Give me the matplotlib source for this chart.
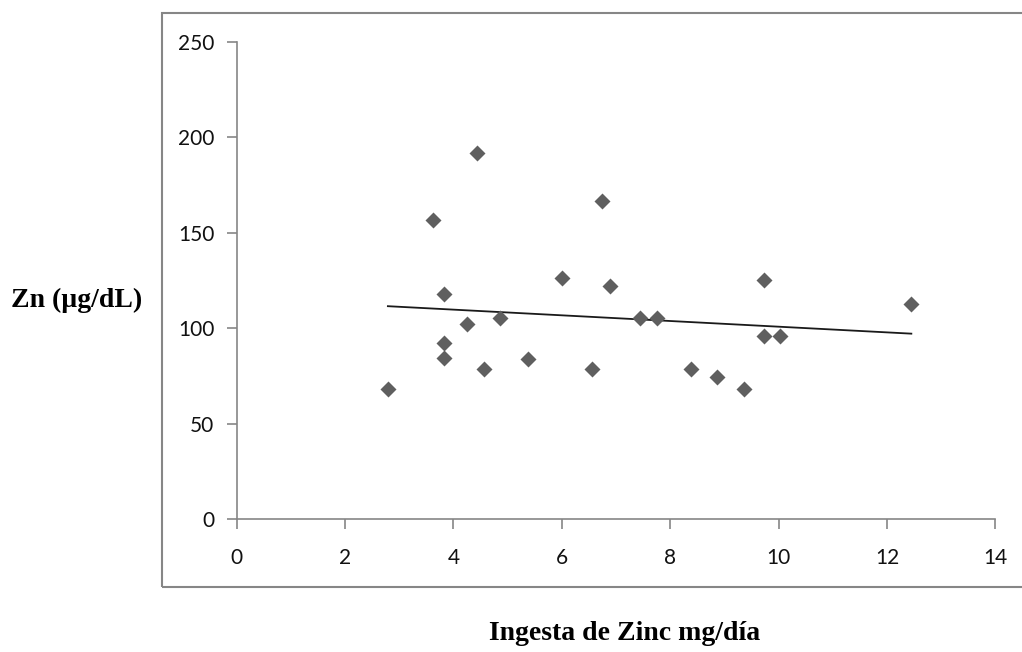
import numpy as np
import matplotlib.pyplot as plt
from matplotlib.patches import Rectangle

# zinc intake (mg/day) vs serum zinc (ug/dL)
ingesta = [2.79, 3.62, 4.44, 3.83, 3.83, 3.83, 4.25, 4.86, 4.56, 5.37, 6.01,
           6.75, 6.88, 6.55, 7.45, 7.75, 8.38, 8.86, 9.37, 9.73, 9.73, 10.03, 12.45]
zn = [68.1, 156.6, 191.7, 117.9, 92.0, 84.2, 102.1, 105.1, 78.4, 83.6, 126.1,
      166.7, 122.2, 78.4, 105.4, 105.4, 78.4, 74.2, 67.9, 125.0, 95.9, 95.9, 112.8]

xticks = [0, 2, 4, 6, 8, 10, 12, 14]
yticks = [0, 50, 100, 150, 200, 250]

grey = '#868686'

fig = plt.figure(figsize=(10.22, 6.52), dpi=100)
ax = fig.add_axes([0.2316, 0.204, 0.7423, 0.732])

x = np.array(ingesta)
y = np.array(zn)
ax.plot(x, y, linestyle='none', marker='D', ms=8.6, color='#5f5f5f', mec='none', zorder=3)

# linear trend
m, b = np.polyfit(x, y, 1)
xl = np.array([x.min(), x.max()])
ax.plot(xl, m * xl + b, color='#1a1a1a', lw=1.3, zorder=2)

ax.set_xlim(0, 14)
ax.set_ylim(0, 250)
ax.set_xticks(xticks)
ax.set_yticks(yticks)
for s in ['top', 'right']:
    ax.spines[s].set_visible(False)
for s in ['left', 'bottom']:
    ax.spines[s].set_color(grey)
    ax.spines[s].set_linewidth(1.2)
ax.tick_params(direction='out', length=7, width=1.2, color=grey,
               labelsize=15, labelcolor='#111111')
ax.tick_params(axis='x', pad=14)
ax.tick_params(axis='y', pad=9)
for lab in ax.get_xticklabels() + ax.get_yticklabels():
    lab.set_family('Lato')

# outer chart frame
fig.patches.append(Rectangle((162 / 1022, 1 - 587 / 652), 2, (587 - 13) / 652,
                             transform=fig.transFigure, fill=False,
                             edgecolor=grey, lw=1.5))

fig.text(77 / 1022, 1 - 300 / 652, 'Zn (µg/dL)', ha='center', va='center',
         family='Liberation Serif', fontweight='bold', fontsize=20)
fig.text(625 / 1022, 1 - 633 / 652, 'Ingesta de Zinc mg/día', ha='center', va='center',
         family='Liberation Serif', fontweight='bold', fontsize=20)

fig.savefig('out.png', dpi=100)
